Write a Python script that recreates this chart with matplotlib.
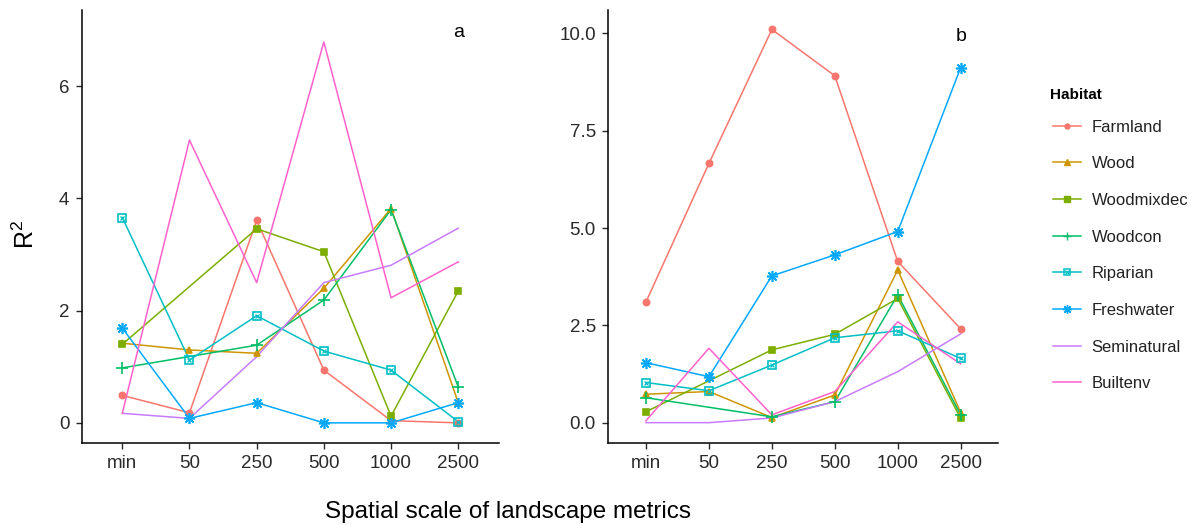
import numpy as np
import matplotlib
matplotlib.use("Agg")
import matplotlib.pyplot as plt
from matplotlib.lines import Line2D

plt.rcParams['font.family'] = ['Liberation Sans', 'DejaVu Sans']
plt.rcParams['mathtext.fontset'] = 'custom'
plt.rcParams['mathtext.rm'] = 'Liberation Sans'

scales = ["min", "50", "250", "500", "1000", "2500"]
habitats = ["Farmland", "Wood", "Woodmixdec", "Woodcon", "Riparian",
            "Freshwater", "Seminatural", "Builtenv"]
colors = ["#F8766D", "#CD9600", "#7CAE00", "#00BE67", "#00BFC4",
          "#00A9FF", "#C77CFF", "#FF61CC"]

# panel a values (None = no value at that scale)
farmland_a = [0.49, 0.18, 3.61, 0.94, 0.04, 0.0]
wood_a = [1.42, 1.30, 1.24, 2.40, 3.82, 0.36]
woodmixdec_a = [1.40, None, 3.46, 3.05, 0.12, 2.35]
woodcon_a = [0.98, None, 1.385, 2.19, 3.80, 0.64]
riparian_a = [3.66, 1.12, 1.91, 1.28, 0.94, 0.02]
freshwater_a = [1.69, 0.08, 0.36, 0.0, 0.0, 0.36]
seminatural_a = [0.17, 0.08, 1.18, 2.50, 2.81, 3.47]
builtenv_a = [0.17, 5.04, 2.50, 6.79, 2.23, 2.87]

# panel b values
farmland_b = [3.10, 6.66, 10.10, 8.91, 4.14, 2.41]
wood_b = [0.73, 0.80, 0.13, 0.71, 3.92, 0.26]
woodmixdec_b = [0.28, None, 1.87, 2.27, 3.19, 0.11]
woodcon_b = [0.64, None, 0.15, 0.54, 3.28, 0.20]
riparian_b = [1.03, 0.82, 1.48, 2.18, 2.36, 1.65]
freshwater_b = [1.54, 1.18, 3.77, 4.31, 4.91, 9.12]
seminatural_b = [0.0, 0.0, 0.12, 0.54, 1.31, 2.28]
builtenv_b = [0.05, 1.91, 0.20, 0.80, 2.59, 1.51]

panel_a = [farmland_a, wood_a, woodmixdec_a, woodcon_a, riparian_a,
           freshwater_a, seminatural_a, builtenv_a]
panel_b = [farmland_b, wood_b, woodmixdec_b, woodcon_b, riparian_b,
           freshwater_b, seminatural_b, builtenv_b]

markers = ["o", "^", "s", "+", "s", (8, 2, 0), None, None]
msizes = [4.5, 5, 5, 8, 5.5, 8, 0, 0]
tick_col = "#2a2a2a"

fig = plt.figure(figsize=(11.95, 5.26), dpi=100)
ax_a = fig.add_axes([0.0686, 0.158, 0.3486, 0.823])
ax_b = fig.add_axes([0.509, 0.158, 0.3265, 0.823])


def draw(ax, data):
    x = np.arange(1, len(scales) + 1)
    for vals, col, mk, ms in zip(data, colors, markers, msizes):
        y = np.array([np.nan if v is None else v for v in vals], dtype=float)
        ok = ~np.isnan(y)
        ax.plot(x[ok], y[ok], color=col, lw=1.1, zorder=2)
        if mk is None:
            continue
        if mk == "s" and col == "#00BFC4":
            ax.plot(x[ok], y[ok], ls="none", marker="s", ms=ms, mfc="none",
                    mec=col, mew=1.2, zorder=3)
            ax.plot(x[ok], y[ok], ls="none", marker="x", ms=3.5, mec=col,
                    mew=0.9, zorder=3)
        else:
            ax.plot(x[ok], y[ok], ls="none", marker=mk, ms=ms, color=col,
                    mew=1.2, zorder=3)
    ax.set_xticks(x)
    ax.set_xticklabels(scales)
    ax.set_xlim(0.4, len(scales) + 0.6)
    for s in ["top", "right"]:
        ax.spines[s].set_visible(False)
    for s in ["left", "bottom"]:
        ax.spines[s].set_linewidth(1.1)
    ax.tick_params(labelsize=13.5, colors=tick_col, length=4, width=1.0,
                   pad=5)
    ax.set_facecolor("white")


draw(ax_a, panel_a)
draw(ax_b, panel_b)

ax_a.set_ylim(-0.357, 7.36)
ax_a.set_yticks([0, 2, 4, 6])
ax_b.set_ylim(-0.52, 10.6)
ax_b.set_yticks([0, 2.5, 5, 7.5, 10])
ax_b.set_yticklabels(["0.0", "2.5", "5.0", "7.5", "10.0"])

ax_a.text(6, 6.95, "a", fontsize=14, ha="center", va="center")
ax_b.text(6, 9.93, "b", fontsize=14, ha="center", va="center")

fig.text(0.022, 0.555, "R$^2$", fontsize=18, rotation=90,
         ha="center", va="center")
fig.text(0.425, 0.027, "Spatial scale of landscape metrics", fontsize=17.5,
         ha="center", va="center")

# legend (title drawn separately so its gap can be set)
handles = []
for col, mk, ms in zip(colors, markers, msizes):
    if mk is None:
        handles.append(Line2D([], [], color=col, lw=1.1))
    elif col == "#00BFC4":
        handles.append((Line2D([], [], color=col, lw=1.1, marker="s", ms=4.5,
                               mfc="none", mec=col, mew=1.1),
                        Line2D([], [], ls="none", marker="x", ms=3,
                               mec=col, mew=0.8)))
    else:
        handles.append(Line2D([], [], color=col, lw=1.1, marker=mk,
                              ms=ms * 0.8, mew=1.0))
leg = fig.legend(handles, habitats, loc="upper left",
                 bbox_to_anchor=(0.8785, 0.779), frameon=False,
                 fontsize=12, handlelength=1.7, handletextpad=0.6,
                 labelspacing=1.3, borderpad=0.2, borderaxespad=0)
for t in leg.get_texts():
    t.set_color("#222222")
fig.text(0.8787, 0.8195, "Habitat", fontsize=11, fontweight="bold",
         ha="left", va="center")

fig.savefig("out.png", dpi=100)
